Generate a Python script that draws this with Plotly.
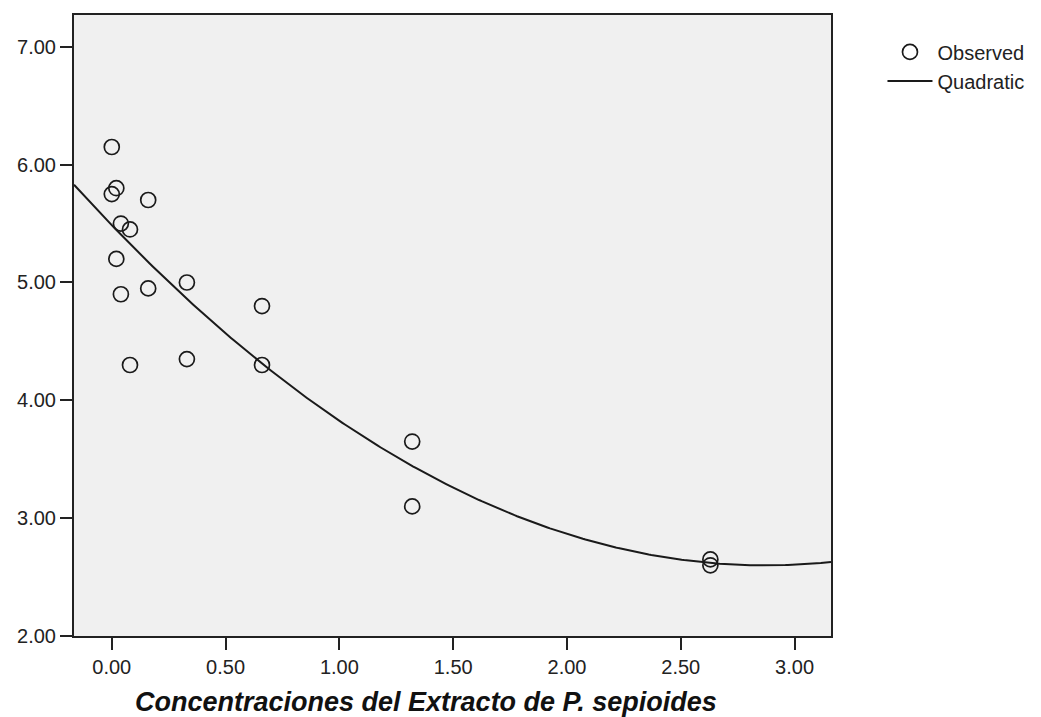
import numpy as np
import plotly.graph_objects as go

# Observed data (concentration, response)
conc = [0.00, 0.00, 0.02, 0.02, 0.04, 0.04, 0.08, 0.08, 0.16, 0.16,
        0.33, 0.33, 0.66, 0.66, 1.32, 1.32, 2.63, 2.63]
resp = [6.15, 5.75, 5.80, 5.20, 5.50, 4.90, 5.45, 4.30, 5.70, 4.95,
        5.00, 4.35, 4.80, 4.30, 3.65, 3.10, 2.65, 2.60]

x_ticks = [0.0, 0.5, 1.0, 1.5, 2.0, 2.5, 3.0]
x_ticklabels = ["0.00", "0.50", "1.00", "1.50", "2.00", "2.50", "3.00"]
y_ticks = [2.0, 3.0, 4.0, 5.0, 6.0, 7.0]
y_ticklabels = ["2.00", "3.00", "4.00", "5.00", "6.00", "7.00"]
x_title = "Concentraciones del Extracto de P. sepioides"

x_range = [-0.166, 3.16]
y_range = [2.0, 7.27]

# Quadratic least-squares fit of the observed data
coef = np.polyfit(conc, resp, 2)
xf = np.linspace(x_range[0], x_range[1], 300)
yf = np.polyval(coef, xf)

fig = go.Figure()
fig.add_trace(go.Scatter(
    x=conc, y=resp, mode="markers", name="Observed",
    marker=dict(symbol="circle-open", size=15, color="#1a1a1a",
                line=dict(width=1.7, color="#1a1a1a")),
))
fig.add_trace(go.Scatter(
    x=xf, y=yf, mode="lines", name="Quadratic",
    line=dict(color="#1a1a1a", width=2),
))

fig.update_layout(
    width=1041, height=717,
    paper_bgcolor="white", plot_bgcolor="#F0F0F0",
    margin=dict(l=74, r=210, t=15, b=81, autoexpand=False),
    font=dict(family="Liberation Sans, Arial, sans-serif", size=20, color="#222"),
    showlegend=True,
    legend=dict(x=1.068, y=0.972, xanchor="left", yanchor="top",
                bgcolor="rgba(0,0,0,0)", font=dict(size=20, color="#222"),
                tracegroupgap=0, itemwidth=45),
    annotations=[dict(
        text="<b><i>" + x_title + "</i></b>",
        xref="paper", yref="paper", x=0.465, y=-0.106,
        xanchor="center", yanchor="middle", showarrow=False,
        font=dict(size=27, color="#111"),
    )],
)
fig.update_xaxes(
    range=x_range, tickvals=x_ticks, ticktext=x_ticklabels,
    tickfont=dict(size=20),
    showgrid=False, zeroline=False, showline=True, linecolor="#222", linewidth=2,
    mirror=True, ticks="outside", ticklen=12, tickwidth=2, tickcolor="#222",
)
fig.update_yaxes(
    range=y_range, tickvals=y_ticks, ticktext=y_ticklabels,
    tickfont=dict(size=20),
    showgrid=False, zeroline=False, showline=True, linecolor="#222", linewidth=2,
    mirror=True, ticks="outside", ticklen=12, tickwidth=2, tickcolor="#222",
)

fig.write_html("out.html")
